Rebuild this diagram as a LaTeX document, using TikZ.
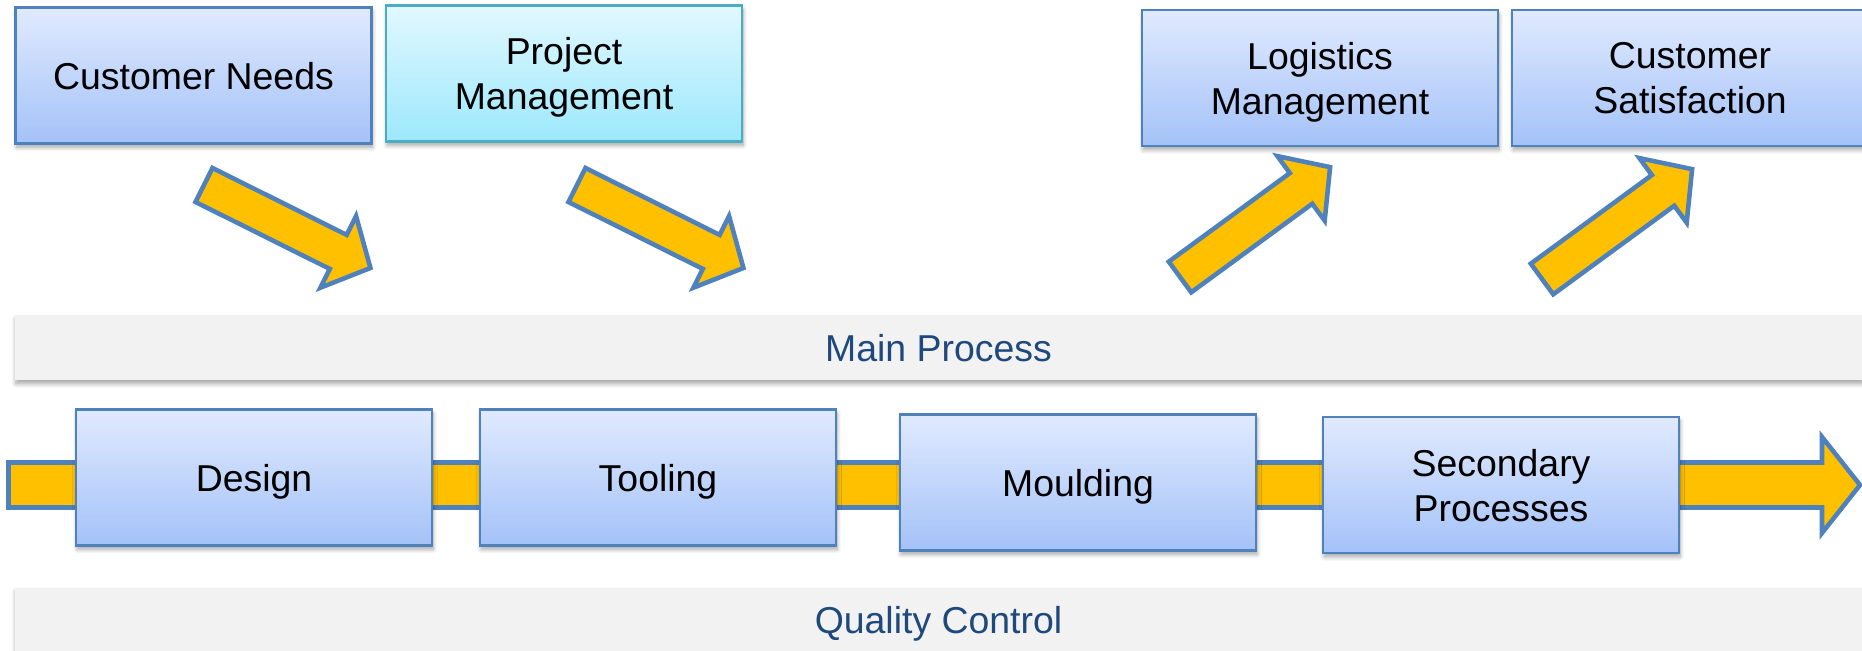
\documentclass[tikz,border=0pt]{standalone}
\usepackage{fontspec}
\setmainfont{Liberation Sans}
\usetikzlibrary{shadows.blur}

\definecolor{boxedge}{RGB}{79,129,189}
\definecolor{boxtop}{RGB}{224,234,254}
\definecolor{boxbot}{RGB}{164,194,248}
\definecolor{pmedge}{RGB}{75,172,198}
\definecolor{pmtop}{RGB}{226,248,255}
\definecolor{pmbot}{RGB}{156,232,252}
\definecolor{flow}{RGB}{255,192,0}
\definecolor{bandfill}{RGB}{242,242,242}
\definecolor{bandtext}{RGB}{31,73,125}

\tikzset{
  softshadow/.style={blur shadow={shadow xshift=0.6pt, shadow yshift=-2.2pt,
      shadow blur radius=2.4pt, shadow blur steps=8, shadow opacity=35}},
  stage/.style={draw=boxedge, line width=1.2pt, top color=boxtop, bottom color=boxbot,
      minimum width=7.12cm, minimum height=2.72cm, align=center, inner sep=0pt,
      text depth=0pt, font=\fontsize{21.3}{25.6}\selectfont, softshadow},
  pmstage/.style={stage, draw=pmedge, top color=pmtop, bottom color=pmbot},
  band/.style={fill=bandfill, minimum width=36.96cm, minimum height=1.3cm, inner sep=0pt,
      text depth=0pt, text=bandtext, font=\fontsize{21.3}{25.6}\selectfont, softshadow},
  flowarrow/.style={fill=flow, draw=boxedge, line width=2.6pt, line join=miter},
}

\begin{document}
\begin{tikzpicture}[x=0.02cm, y=-0.02cm]
    \useasboundingbox (0,0) rectangle (1862,651);
    % grey bands
    \node[band] (main) at (938.5,347.5) {Main Process};
    \node[band] (qc) at (938.5,620) {Quality Control};
    % flow through the main process
    \draw[flowarrow] (8.5,462.5) -- (1822,462.5) -- (1822,437) -- (1860,485)
        -- (1822,533) -- (1822,507.5) -- (8.5,507.5) -- cycle;
    % process stages
    \node[stage] (design) at (254,477.5) {Design};
    \node[stage] (tooling) at (658,477.5) {Tooling};
    \node[stage] (moulding) at (1078,482.5) {Moulding};
    \node[stage] (secondary) at (1501,485) {Secondary\\Processes};
    % inputs and outputs
    \node[stage] (needs) at (193.5,75.5) {Customer Needs};
    \node[pmstage] (pm) at (564,73.5) {Project\\Management};
    \node[stage] (logistics) at (1320,78) {Logistics\\Management};
    \node[stage] (satisfaction) at (1690,78) {Customer\\Satisfaction};
    % block arrows in
    \draw[flowarrow, shift={(204,185)}, rotate=-26.5]
        (0,-19) -- (150,-19) -- (150,-40) -- (186,0) -- (150,40) -- (150,19) -- (0,19) -- cycle;
    \draw[flowarrow, shift={(577,185)}, rotate=-26.5]
        (0,-19) -- (150,-19) -- (150,-40) -- (186,0) -- (150,40) -- (150,19) -- (0,19) -- cycle;
    % block arrows out
    \draw[flowarrow, shift={(1180,277)}, rotate=36.2]
        (0,-19) -- (150,-19) -- (150,-40) -- (186,0) -- (150,40) -- (150,19) -- (0,19) -- cycle;
    \draw[flowarrow, shift={(1542,279)}, rotate=36.2]
        (0,-19) -- (150,-19) -- (150,-40) -- (186,0) -- (150,40) -- (150,19) -- (0,19) -- cycle;
\end{tikzpicture}
\end{document}
